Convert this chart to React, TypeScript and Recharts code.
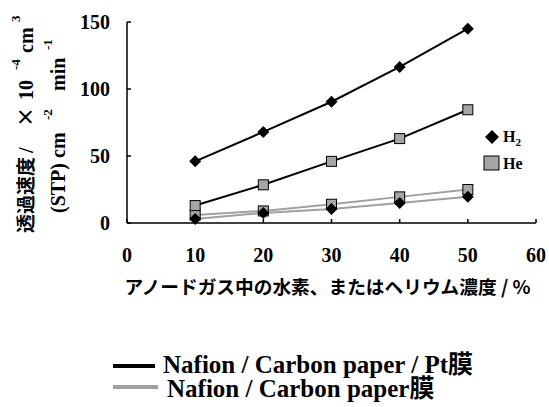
import { LineChart, Line, XAxis, YAxis, Legend, Label } from 'recharts';

// アノードガス中の濃度 (%)
const concentrations = [10, 20, 30, 40, 50];
// Nafion / Carbon paper / Pt膜
const h2WithPt = [46, 68, 90.5, 116.5, 145];
const heWithPt = [13, 28.5, 46, 63, 84.5];
// Nafion / Carbon paper膜
const h2NoPt = [3, 7.5, 10.5, 15, 19.5];
const heNoPt = [6, 9, 14, 19.5, 25];

const xTicks = [0, 10, 20, 30, 40, 50, 60];
const yTicks = [0, 50, 100, 150];

const data = concentrations.map((c, i) => ({
  x: c,
  h2Pt: h2WithPt[i],
  hePt: heWithPt[i],
  h2: h2NoPt[i],
  he: heNoPt[i]
}));

const SERIF = "'Times New Roman', 'Liberation Serif', Tinos, 'DejaVu Serif', serif";
const GOTHIC = "'Noto Sans CJK JP', sans-serif";
const GRAY_LINE = '#a0a0a0';
const SQUARE_FILL = '#a6a6a6';

const serifStyle = { fontFamily: SERIF, fontWeight: 'bold' as const };
const gothicStyle = { fontFamily: GOTHIC, fontWeight: 'bold' as const };

function Diamond(props: any) {
  const { cx, cy } = props;
  if (cx == null || cy == null) return null;
  const r = 6;
  return (
    <path
      d={`M${cx},${cy - r}L${cx + r},${cy}L${cx},${cy + r}L${cx - r},${cy}Z`}
      fill="#000"
    />
  );
}

function Square(props: any) {
  const { cx, cy } = props;
  if (cx == null || cy == null) return null;
  const s = 10;
  return (
    <rect
      x={cx - s / 2}
      y={cy - s / 2}
      width={s}
      height={s}
      fill={SQUARE_FILL}
      stroke="#000"
      strokeWidth={1}
    />
  );
}

// two-line rotated title with superscripts; x values run along the text
function YTitle() {
  return (
    <g fill="#000">
      <text transform="translate(33, 233) rotate(-90)" fontSize={20} style={serifStyle}>
        <tspan x={0} fontSize={19} style={gothicStyle}>透過速度</tspan>
        <tspan x={80}>/</tspan>
        <tspan x={106} style={gothicStyle}>×</tspan>
        <tspan x={133}>10</tspan>
        <tspan x={163} dy={-13} fontSize={13}>-4</tspan>
        <tspan x={180} dy={13}>cm</tspan>
        <tspan x={211} dy={-13} fontSize={13}>3</tspan>
      </text>
      <text transform="translate(65, 213) rotate(-90)" fontSize={20} style={serifStyle}>
        <tspan x={0}>(STP) cm</tspan>
        <tspan x={93} dy={-13} fontSize={13}>-2</tspan>
        <tspan x={122} dy={13}>min</tspan>
        <tspan x={163} dy={-13} fontSize={13}>-1</tspan>
      </text>
    </g>
  );
}

function ChartLegends() {
  return (
    <svg width={549} height={407} style={{ position: 'absolute', left: 0, top: 0 }}>
      {/* gas markers inside the plot */}
      <g fontSize={16} fill="#000" style={serifStyle}>
        <path d="M492,130L499,137L492,144L485,137Z" fill="#000" />
        <text x={503} y={142}>
          H<tspan dy={4} fontSize={11}>2</tspan>
        </text>
        <rect x={484} y={156} width={15} height={14} fill={SQUARE_FILL} stroke="#000" strokeWidth={1} />
        <text x={503} y={169}>He</text>
      </g>
      {/* membrane legend */}
      <g fontSize={25} fill="#000" style={serifStyle}>
        <line x1={113} x2={155} y1={366} y2={366} stroke="#000" strokeWidth={4} />
        <text x={163} y={373}>
          Nafion / Carbon paper / Pt<tspan style={gothicStyle}>膜</tspan>
        </text>
        <line x1={113} x2={158} y1={387} y2={387} stroke={GRAY_LINE} strokeWidth={4} />
        <text x={167} y={397}>
          Nafion / Carbon paper<tspan style={gothicStyle}>膜</tspan>
        </text>
      </g>
    </svg>
  );
}

export default function App() {
  return (
    <div style={{ position: 'absolute', left: 0, top: 0, width: 549, height: 407, background: '#fff' }}>
      <LineChart
        width={549}
        height={407}
        data={data}
        margin={{ top: 22, right: 13, left: 0, bottom: 124 }}
      >
        <XAxis
          dataKey="x"
          type="number"
          domain={[0, 60]}
          ticks={xTicks}
          height={60}
          stroke="#000"
          strokeWidth={1.5}
          tickSize={-4}
          tickMargin={29}
          tick={{ fill: '#000', fontSize: 20, style: serifStyle }}
        >
          <Label
            value="アノードガス中の水素、またはヘリウム濃度 / %"
            position="insideBottom"
            offset={-11}
            dx={-4}
            style={{ ...gothicStyle, fontSize: 18.7, fill: '#000' }}
          />
        </XAxis>
        <XAxis
          xAxisId="top"
          dataKey="x"
          type="number"
          domain={[0, 60]}
          orientation="top"
          height={0}
          tick={false}
          tickLine={false}
          stroke="#000"
          strokeWidth={1.5}
        />
        <YAxis
          type="number"
          domain={[0, 150]}
          ticks={yTicks}
          width={127}
          stroke="#000"
          strokeWidth={1.5}
          tickSize={-4}
          tickMargin={21}
          tick={{ fill: '#000', fontSize: 20, style: serifStyle }}
          label={{ content: () => <YTitle /> }}
        />
        <YAxis
          yAxisId="right"
          orientation="right"
          type="number"
          domain={[0, 150]}
          width={0}
          tick={false}
          tickLine={false}
          stroke="#000"
          strokeWidth={1.5}
        />
        <Line
          dataKey="he"
          stroke={GRAY_LINE}
          strokeWidth={2}
          dot={<Square />}
          isAnimationActive={false}
        />
        <Line
          dataKey="h2"
          stroke={GRAY_LINE}
          strokeWidth={2}
          dot={<Diamond />}
          isAnimationActive={false}
        />
        <Line
          dataKey="hePt"
          stroke="#000"
          strokeWidth={2}
          dot={<Square />}
          isAnimationActive={false}
        />
        <Line
          dataKey="h2Pt"
          stroke="#000"
          strokeWidth={2}
          dot={<Diamond />}
          isAnimationActive={false}
        />
        <Legend
          layout="horizontal"
          verticalAlign="middle"
          align="center"
          wrapperStyle={{ position: 'absolute', left: 0, top: 0, width: 549, height: 407, pointerEvents: 'none' }}
          content={() => <ChartLegends />}
        />
      </LineChart>
    </div>
  );
}
